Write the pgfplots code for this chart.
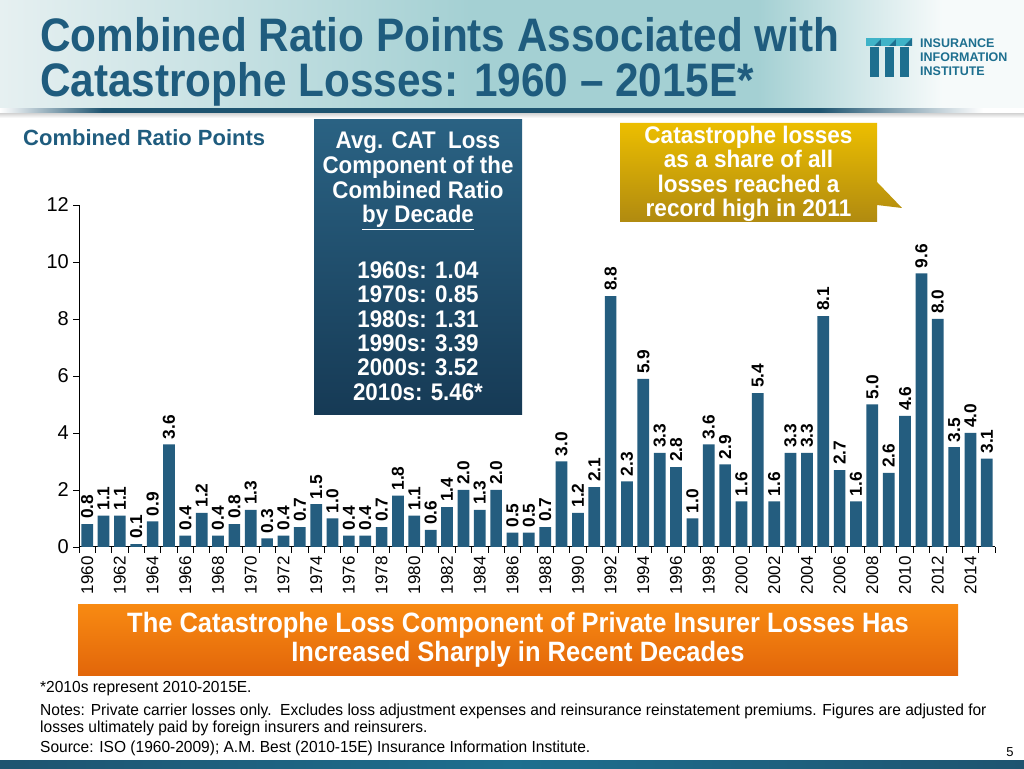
\documentclass[border=0pt]{standalone}
\usepackage{pgfplots}
\pgfplotsset{compat=1.18}
\usepackage{fontspec}
\setmainfont{Liberation Sans}
\newfontfamily\narrowA[FakeStretch=0.90,Ligatures=TeX]{Liberation Sans}
\newfontfamily\narrowB[FakeStretch=0.93,Ligatures=TeX]{Liberation Sans}
\newfontfamily\narrowC[FakeStretch=0.94,Ligatures=TeX]{Liberation Sans}
\newfontfamily\narrowD[FakeStretch=0.91,Ligatures=TeX]{Liberation Sans}
\newfontfamily\narrowE[FakeStretch=0.97,Ligatures=TeX]{Liberation Sans}
\definecolor{titleblue}{HTML}{1F5C7E}
\definecolor{barblue}{HTML}{245D7F}
\definecolor{tb1}{HTML}{E6F0F1}
\definecolor{tb2}{HTML}{A4D0D3}
\definecolor{tb3}{HTML}{F6FAFA}
\definecolor{linedark}{HTML}{1E5470}
\definecolor{logoblue}{HTML}{1D6F8F}
\definecolor{logolight}{HTML}{3FB3C8}
\definecolor{boxtop}{HTML}{2A6283}
\definecolor{boxbot}{HTML}{163A55}
\definecolor{yeltop}{HTML}{ECBE00}
\definecolor{yelbot}{HTML}{B08A10}
\definecolor{ortop}{HTML}{F88A12}
\definecolor{orbot}{HTML}{E2660A}
\pgfdeclarehorizontalshading{titlebg}{100bp}{color(0bp)=(tb1); color(25bp)=(tb1); color(48bp)=(tb2); color(62bp)=(tb2); color(71bp)=(tb3); color(100bp)=(tb3)}
\pgfdeclarehorizontalshading{tline}{100bp}{color(0bp)=(white); color(25bp)=(white); color(30bp)=(linedark); color(65bp)=(linedark); color(73bp)=(white); color(100bp)=(white)}
\pgfdeclarehorizontalshading{bline}{100bp}{color(0bp)=(linedark); color(25bp)=(linedark); color(50bp)=(logoblue); color(75bp)=(linedark); color(100bp)=(linedark)}
\newcommand{\fsz}[2]{\fontsize{#1}{#2}\selectfont}
\begin{document}
\begin{tikzpicture}
\begin{scope}[x=1pt,y=1pt]
\useasboundingbox (0,0) rectangle (1024,768);
\fill[white] (0,0) rectangle (1024,768);
% title band
\shade[shading=titlebg] (0,657) rectangle (1024,768);
\shade[top color=black!25, bottom color=white] (0,650) rectangle (1024,657);
\shade[shading=tline] (0,655) rectangle (1024,659);
\node[anchor=base west, inner sep=0, text=titleblue, font=\narrowA\fsz{47}{50}\bfseries] at (40,716) {Combined Ratio Points Associated with};
\node[anchor=base west, inner sep=0, text=titleblue, font=\narrowA\fsz{47}{50}\bfseries] at (40,671) {Catastrophe Losses: 1960 \textendash{} 2015E*};
% logo
\foreach \i in {0,1,2}{
  \fill[logoblue] (870+15*\i,691) rectangle (879+15*\i,721);
  \fill[logolight] (866+15*\i,722) rectangle (882+15*\i,730);
  \fill[logoblue] (874+15*\i,722) -- (882+15*\i,730) -- (882+15*\i,722) -- cycle;
}
\node[anchor=base west, inner sep=0, text=logoblue, font=\fsz{12.5}{13}\bfseries] at (920,720) {INSURANCE};
\node[anchor=base west, inner sep=0, text=logoblue, font=\fsz{12.5}{13}\bfseries] at (920,706) {INFORMATION};
\node[anchor=base west, inner sep=0, text=logoblue, font=\fsz{12.5}{13}\bfseries] at (920,692) {INSTITUTE};
% bottom strip
\shade[shading=bline] (0,0) rectangle (1024,8);
\end{scope}

\begin{axis}[
  at={(79pt,221pt)}, anchor=south west,
  scale only axis, width=916pt, height=342pt,
  xmin=1959.5, xmax=2015.5, ymin=0, ymax=12,
  axis x line=bottom, axis y line=left,
  axis line style={-, line width=1pt, black},
  tick align=outside,
  xtick={1960,1962,...,2014},
  minor xtick={1959.5,1960.5,...,2015.5},
  major x tick style={draw=none},
  minor x tick style={black, line width=0.8pt},
  minor tick length=6pt,
  ytick={0,2,...,12},
  major y tick style={black, line width=0.8pt},
  major tick length=6pt,
  /pgf/number format/assume math mode=true,
  /pgf/number format/1000 sep={},
  xticklabel style={rotate=90, anchor=east, font=\fsz{17}{19}, inner sep=3pt},
  yticklabel style={font=\fsz{20}{22}, inner sep=4pt},
  ybar, bar width=11.7pt, bar shift=0pt,
  nodes near coords,
  nodes near coords style={rotate=90, anchor=west, font=\fsz{17.3}{19}\bfseries, inner xsep=5pt, inner ysep=1pt,
    /pgf/number format/fixed, /pgf/number format/fixed zerofill, /pgf/number format/precision=1},
  clip=false,
]
\addplot[fill=barblue, draw=none] coordinates {
(1960,0.8) (1961,1.1) (1962,1.1) (1963,0.1) (1964,0.9) (1965,3.6) (1966,0.4) (1967,1.2) (1968,0.4) (1969,0.8)
(1970,1.3) (1971,0.3) (1972,0.4) (1973,0.7) (1974,1.5) (1975,1.0) (1976,0.4) (1977,0.4) (1978,0.7) (1979,1.8)
(1980,1.1) (1981,0.6) (1982,1.4) (1983,2.0) (1984,1.3) (1985,2.0) (1986,0.5) (1987,0.5) (1988,0.7) (1989,3.0)
(1990,1.2) (1991,2.1) (1992,8.8) (1993,2.3) (1994,5.9) (1995,3.3) (1996,2.8) (1997,1.0) (1998,3.6) (1999,2.9)
(2000,1.6) (2001,5.4) (2002,1.6) (2003,3.3) (2004,3.3) (2005,8.1) (2006,2.7) (2007,1.6) (2008,5.0) (2009,2.6)
(2010,4.6) (2011,9.6) (2012,8.0) (2013,3.5) (2014,4.0) (2015,3.1)
};
\end{axis}

\begin{scope}[x=1pt,y=1pt]
\node[anchor=west, inner sep=0, text=titleblue, font=\fsz{22}{24}\bfseries] at (23,630) {Combined Ratio Points};
% dark box
\shade[top color=boxtop, bottom color=boxbot] (314,353) rectangle (522,648);
\node[align=center, text=white, font=\narrowB\fsz{24}{24.7}\bfseries] at (418,587) {Avg. CAT\ \ Loss\\Component of the\\Combined Ratio\\\underline{by Decade}};
\node[align=center, text=white, font=\narrowB\fsz{24}{24.4}\bfseries] at (418,437) {1960s: 1.04\\1970s: 0.85\\1980s: 1.31\\1990s: 3.39\\2000s: 3.52\\2010s: 5.46*};
% yellow callout
\shade[top color=yeltop, bottom color=yelbot] (620,546) -- (877,546) -- (877,586) -- (902,560) -- (877,563) -- (877,645) -- (620,645) -- cycle;
\node[align=center, text=white, font=\narrowC\fsz{24}{24.3}\bfseries] at (748.5,594) {Catastrophe losses\\as a share of all\\losses reached a\\record high in 2011};
% orange banner
\shade[top color=ortop, bottom color=orbot] (78,93) rectangle (958,163);
\node[align=center, text=white, font=\narrowD\fsz{28}{29}\bfseries] at (518,128.5) {The Catastrophe Loss Component of Private Insurer Losses Has\\Increased Sharply in Recent Decades};
% footnotes
\node[anchor=west, inner sep=0, font=\narrowE\fsz{16}{17}] at (40,79) {*2010s represent 2010-2015E.};
\node[anchor=west, inner sep=0, font=\narrowE\fsz{16}{17}] at (40,57) {Notes: Private carrier losses only.\ \ Excludes loss adjustment expenses and reinsurance reinstatement premiums. Figures are adjusted for};
\node[anchor=west, inner sep=0, font=\narrowE\fsz{16}{17}] at (40,40) {losses ultimately paid by foreign insurers and reinsurers.};
\node[anchor=west, inner sep=0, font=\narrowE\fsz{16}{17}] at (40,20) {Source: ISO (1960-2009); A.M. Best (2010-15E) Insurance Information Institute.};
\node[anchor=center, inner sep=0, font=\fsz{13}{15}] at (1010,16) {5};
\end{scope}
\end{tikzpicture}
\end{document}
